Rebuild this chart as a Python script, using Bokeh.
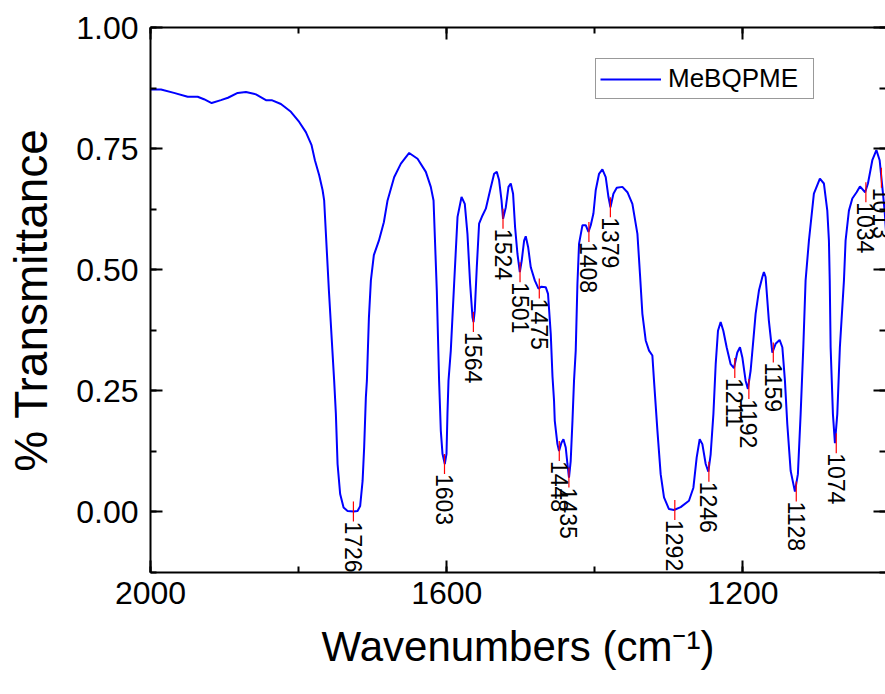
import numpy as np
from bokeh.plotting import figure
from bokeh.models import (Range1d, LinearAxis, SingleIntervalTicker, NumeralTickFormatter,
                          Legend, LegendItem, ColumnDataSource, CustomJSTickFormatter)
from bokeh.core.properties import value
from bokeh.embed import file_html
from bokeh.resources import INLINE

# ---- data ----
wavenumber = [2000, 1985.8, 1968.3, 1949.8, 1936.3, 1927.8, 1917.4, 1904.9, 1895.4, 1882.3,
              1871.1, 1857.6, 1844.1, 1836.4, 1823.9, 1810.4, 1799.2, 1790.2, 1782.5, 1778.0,
              1772.2, 1767.6, 1765.5, 1759.1, 1752.0, 1749.7, 1747.4, 1743.9, 1739.3, 1733.9,
              1725.8, 1720.4, 1716.9, 1713.6, 1711.5, 1709.2, 1707.8, 1705.1, 1702.4, 1698.4,
              1691.6, 1684.9, 1679.9, 1671.0, 1661.9, 1650.7, 1639.4, 1628.2, 1621.5, 1617.8,
              1613.4, 1610.3, 1608.0, 1605.7, 1602.6, 1600.3, 1599.0, 1597.6, 1594.5, 1590.0,
              1585.4, 1580.0, 1575.6, 1572.0, 1568.4, 1565.2, 1563.8, 1562.1, 1559.4, 1556.3,
              1551.7, 1547.2, 1541.4, 1536.0, 1532.4, 1529.3, 1526.0, 1523.9, 1520.2, 1516.6,
              1513.5, 1510.4, 1507.7, 1504.5, 1501.3, 1498.7, 1495.5, 1493.3, 1490.1, 1486.5,
              1481.1, 1476.1, 1472.1, 1466.3, 1463.2, 1459.5, 1457.2, 1455.1, 1454.1, 1450.5,
              1448.3, 1445.1, 1442.4, 1439.3, 1437.0, 1434.9, 1432.6, 1430.2, 1428.1, 1425.8,
              1423.5, 1421.3, 1416.7, 1412.3, 1408.6, 1405.5, 1401.9, 1398.8, 1394.3, 1389.8,
              1385.3, 1381.6, 1378.9, 1374.9, 1370.4, 1362.8, 1356.0, 1349.3, 1342.5, 1339.0,
              1335.8, 1331.3, 1326.8, 1322.3, 1320.1, 1315.5, 1311.1, 1306.6, 1299.9, 1293.1,
              1284.1, 1272.9, 1266.9, 1262.5, 1258.4, 1254.8, 1250.3, 1246.7, 1243.6, 1239.9,
              1236.8, 1233.7, 1230.1, 1226.5, 1222.0, 1216.6, 1212.1, 1207.6, 1204.0, 1200.8,
              1196.4, 1193.3, 1189.6, 1186.0, 1182.9, 1178.4, 1173.8, 1171.7, 1169.4, 1165.0,
              1160.3, 1155.9, 1150.5, 1146.8, 1143.3, 1140.1, 1135.6, 1129.8, 1125.8, 1122.1,
              1118.5, 1115.4, 1110.9, 1104.2, 1096.1, 1090.7, 1086.1, 1083.9, 1082.8, 1081.6,
              1078.5, 1075.8, 1072.6, 1069.1, 1063.6, 1061.4, 1056.9, 1052.3, 1046.5, 1042.0,
              1035.0, 1031.2, 1025.3, 1019.8, 1015.4, 1011.8, 1008.7, 1006.0]
transmittance = [0.872, 0.872, 0.865, 0.857, 0.857, 0.852, 0.844, 0.850, 0.855, 0.865,
                 0.867, 0.862, 0.850, 0.850, 0.842, 0.826, 0.805, 0.784, 0.757, 0.726,
                 0.695, 0.664, 0.643, 0.457, 0.271, 0.203, 0.099, 0.037, 0.009, 0.002,
                 0.001, 0.002, 0.012, 0.064, 0.133, 0.236, 0.271, 0.400, 0.478, 0.530,
                 0.560, 0.598, 0.643, 0.691, 0.719, 0.741, 0.729, 0.702, 0.671, 0.643,
                 0.457, 0.271, 0.168, 0.120, 0.099, 0.120, 0.203, 0.271, 0.333, 0.471,
                 0.609, 0.650, 0.636, 0.574, 0.471, 0.402, 0.392, 0.416, 0.505, 0.595,
                 0.612, 0.626, 0.664, 0.698, 0.702, 0.685, 0.643, 0.605, 0.629, 0.671,
                 0.678, 0.657, 0.588, 0.533, 0.495, 0.519, 0.560, 0.569, 0.547, 0.505,
                 0.478, 0.461, 0.465, 0.464, 0.450, 0.367, 0.280, 0.230, 0.188, 0.140,
                 0.126, 0.143, 0.150, 0.133, 0.099, 0.071, 0.105, 0.188, 0.271, 0.333,
                 0.471, 0.554, 0.592, 0.592, 0.578, 0.592, 0.616, 0.664, 0.698, 0.707,
                 0.691, 0.650, 0.629, 0.657, 0.669, 0.671, 0.660, 0.636, 0.574, 0.490,
                 0.409, 0.354, 0.333, 0.323, 0.271, 0.168, 0.078, 0.030, 0.006, 0.004,
                 0.010, 0.023, 0.050, 0.112, 0.150, 0.140, 0.099, 0.083, 0.119, 0.202,
                 0.305, 0.374, 0.392, 0.374, 0.340, 0.305, 0.297, 0.329, 0.340, 0.319,
                 0.271, 0.254, 0.292, 0.354, 0.409, 0.457, 0.485, 0.495, 0.485, 0.395,
                 0.329, 0.347, 0.355, 0.340, 0.271, 0.181, 0.085, 0.042, 0.078, 0.202,
                 0.340, 0.478, 0.560, 0.657, 0.688, 0.678, 0.622, 0.560, 0.478, 0.340,
                 0.202, 0.142, 0.202, 0.340, 0.478, 0.560, 0.622, 0.647, 0.660, 0.672,
                 0.660, 0.678, 0.726, 0.747, 0.726, 0.671, 0.622, 0.560]

peak_wn = [1726, 1603, 1564, 1524, 1501, 1475, 1448, 1435, 1408, 1379,
           1292, 1246, 1211, 1192, 1159, 1128, 1074, 1034, 1013]
peak_t = [0.001, 0.099, 0.392, 0.605, 0.495, 0.461, 0.126, 0.071, 0.578, 0.629,
          0.004, 0.083, 0.297, 0.254, 0.329, 0.042, 0.142, 0.660, 0.690]
peak_label = [str(w) for w in peak_wn]

series_name = "MeBQPME"
x_title = "Wavenumbers (cm\u207b\u00b9)"
y_title = "% Transmittance"

FONT = "Liberation Sans"

p = figure(width=885, height=694, output_backend="svg", toolbar_location=None,
           x_range=Range1d(2000, 1007.5), y_range=Range1d(-0.125, 1.0),
           x_axis_location=None, y_axis_location=None,
           min_border_left=150, min_border_right=0, min_border_top=27, min_border_bottom=122)
p.outline_line_color = None
p.background_fill_color = "white"
p.border_fill_color = "white"
for g in p.grid:
    g.visible = False

xticker = SingleIntervalTicker(interval=400, num_minor_ticks=2)
yticker = SingleIntervalTicker(interval=0.25, num_minor_ticks=2)
blank = CustomJSTickFormatter(code="return '';")


def style_axis(ax, show_labels=True, show_line=True):
    ax.axis_line_width = 2
    ax.axis_line_color = "black" if show_line else None
    ax.major_tick_line_width = 2
    ax.minor_tick_line_width = 2
    ax.major_tick_in = 12
    ax.major_tick_out = 0
    ax.minor_tick_in = 6
    ax.minor_tick_out = 0
    ax.major_label_text_font = FONT
    ax.axis_label_text_font = FONT
    ax.axis_label_text_font_style = "normal"
    ax.major_label_text_color = "black"
    ax.axis_label_text_color = "black"
    if not show_labels:
        ax.formatter = blank
        ax.major_label_standoff = 0


xb = LinearAxis(ticker=xticker, axis_label=x_title)
style_axis(xb)
xb.major_label_text_font_size = "32px"
xb.major_label_standoff = 9
xb.axis_label_text_font_size = "42px"
xb.axis_label_standoff = 16
p.add_layout(xb, "below")

xt = LinearAxis(ticker=xticker)
style_axis(xt, show_labels=False)
p.add_layout(xt, "above")

yl = LinearAxis(ticker=yticker, axis_label=y_title, formatter=NumeralTickFormatter(format="0.00"))
style_axis(yl)
yl.major_label_text_font_size = "32px"
yl.major_label_standoff = 12
yl.axis_label_text_font_size = "46px"
yl.axis_label_standoff = 16
p.add_layout(yl, "left")

yr = LinearAxis(ticker=yticker)
style_axis(yr, show_labels=False, show_line=False)
p.add_layout(yr, "right")

src = ColumnDataSource(dict(x=wavenumber, y=transmittance))
line = p.line("x", "y", source=src, line_color="#0000FF", line_width=2)

pk = ColumnDataSource(dict(x=peak_wn, y=peak_t, t=peak_label))
p.scatter("x", "y", source=pk, marker="dash", size=20, angle=np.pi / 2,
          line_color="#FF0000", line_width=1.2)
p.text("x", "y", text="t", source=pk, angle=-np.pi / 2, text_align="left",
       text_baseline="middle", y_offset=10, text_font=value(FONT),
       text_font_size="23px", text_color="black")

legend = Legend(items=[LegendItem(label=series_name, renderers=[line])],
                location=(445, 473))
legend.label_text_font = FONT
legend.label_text_font_size = "26px"
legend.label_text_color = "black"
legend.glyph_width = 61
legend.glyph_height = 28
legend.label_standoff = 7
legend.label_width = 141
legend.padding = 4
legend.margin = 0
legend.spacing = 0
legend.border_line_color = "#333333"
legend.border_line_width = 1
legend.background_fill_color = "white"
legend.background_fill_alpha = 1
p.add_layout(legend)

open("out.html", "w").write(file_html(p, INLINE))
